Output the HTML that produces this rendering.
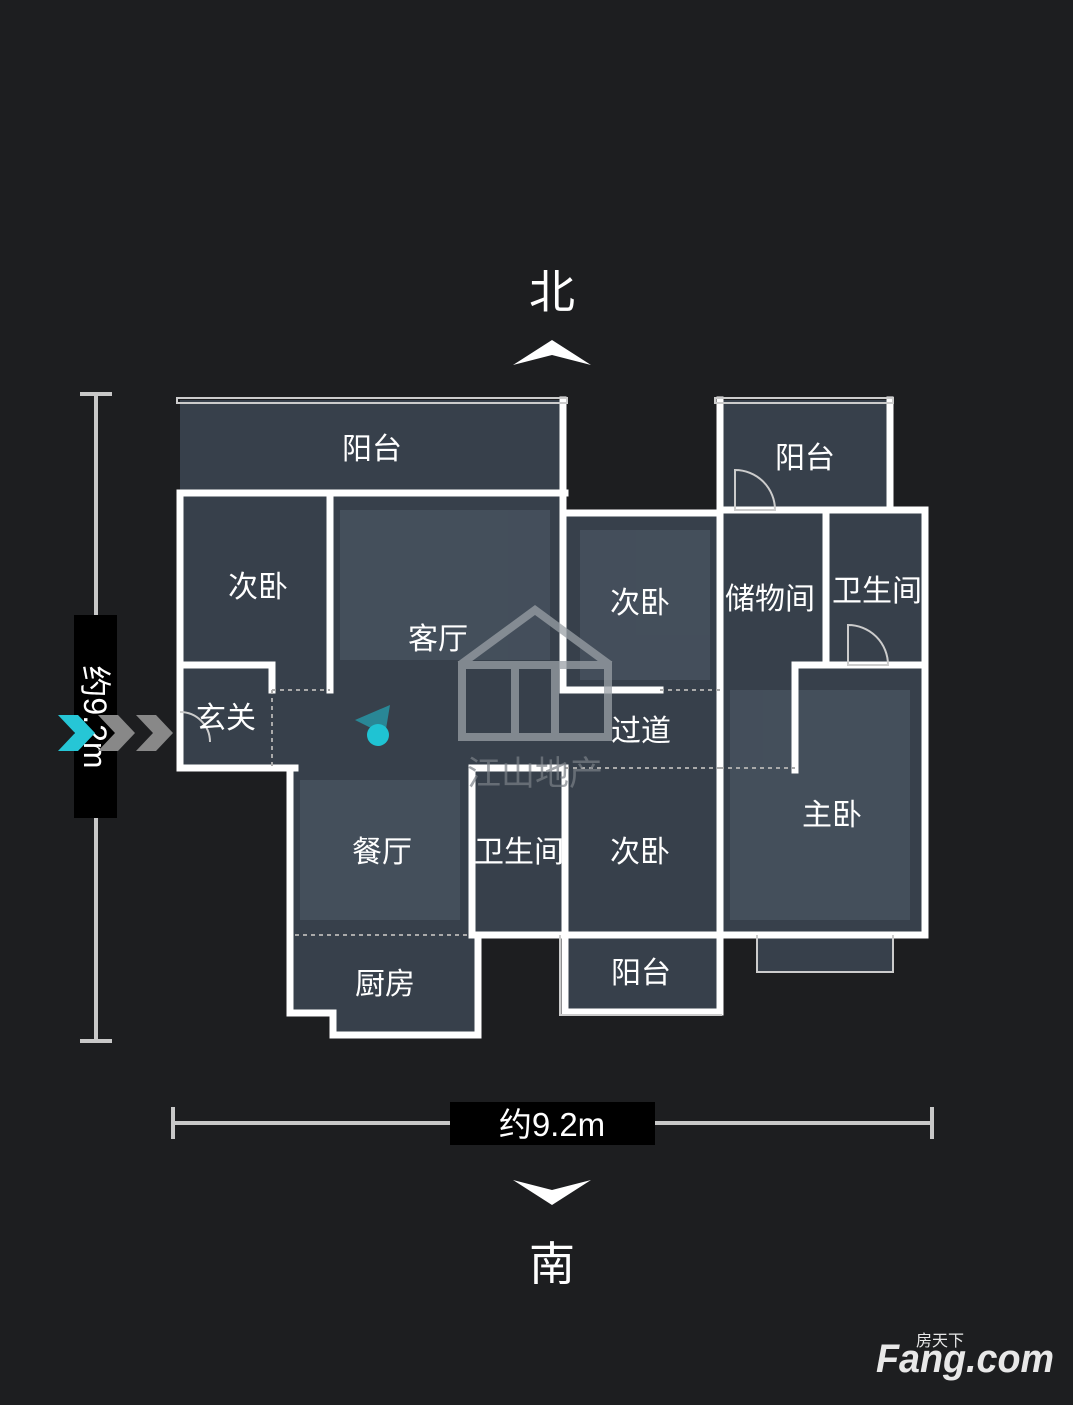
<!DOCTYPE html>
<html><head><meta charset="utf-8"><style>
html,body{margin:0;padding:0;background:#1d1e20;}
body{width:1073px;height:1400px;overflow:hidden;position:relative;font-family:"Liberation Sans","Noto Sans CJK SC",sans-serif;}
svg text{font-family:"Liberation Sans","Noto Sans CJK SC",sans-serif;}
</style></head><body>
<svg width="1073" height="1400" viewBox="0 0 1073 1400" xmlns="http://www.w3.org/2000/svg">
<rect width="1073" height="1400" fill="#1d1e20"/>
<text x="552" y="308" font-size="46" fill="#fff" text-anchor="middle">北</text>
<polygon points="513,365 552,340 591,365 552,355" fill="#fff"/>
<polygon points="513,1180 552,1205 591,1180 552,1190" fill="#fff"/>
<text x="552" y="1280" font-size="46" fill="#fff" text-anchor="middle">南</text>
<g stroke="#c8c8c8" stroke-width="4">
<line x1="96" y1="394" x2="96" y2="1041"/>
<line x1="80" y1="394" x2="112" y2="394"/>
<line x1="80" y1="1041" x2="112" y2="1041"/>
<line x1="173" y1="1123" x2="932" y2="1123"/>
<line x1="173" y1="1107" x2="173" y2="1139"/>
<line x1="932" y1="1107" x2="932" y2="1139"/>
</g>
<rect x="74" y="615" width="43" height="203" fill="#000"/>
<text transform="translate(84,717) rotate(90)" font-size="32" fill="#fff" text-anchor="middle">约9.2m</text>
<rect x="450" y="1102" width="205" height="43" fill="#000"/>
<text x="552" y="1136" font-size="33" fill="#fff" text-anchor="middle">约9.2m</text>
<g fill="#37404b">
<rect x="180" y="400" width="385" height="93"/>
<rect x="180" y="493" width="150" height="172"/>
<rect x="330" y="493" width="235" height="275"/>
<rect x="180" y="665" width="150" height="103"/>
<rect x="290" y="768" width="182" height="167"/>
<rect x="290" y="935" width="188" height="78"/>
<rect x="333" y="1013" width="145" height="22"/>
<rect x="472" y="768" width="93" height="167"/>
<rect x="565" y="513" width="155" height="422"/>
<rect x="565" y="935" width="155" height="78"/>
<rect x="720" y="400" width="170" height="110"/>
<rect x="720" y="510" width="205" height="425"/>
<rect x="757" y="935" width="136" height="37"/>
</g>
<g fill="#4a5562" opacity="0.7">
<rect x="340" y="510" width="210" height="150"/>
<rect x="580" y="530" width="130" height="150"/>
<rect x="730" y="690" width="180" height="230"/>
<rect x="300" y="780" width="160" height="140"/>
</g>
<g stroke="#fff" stroke-width="7" fill="none" stroke-linecap="square">
<polyline points="180,493 180,768 295,768"/>
<line x1="180" y1="493" x2="565" y2="493"/>
<line x1="330" y1="493" x2="330" y2="690"/>
<polyline points="180,665 272,665 272,690"/>
<polyline points="290,768 290,1013 333,1013 333,1035 478,1035 478,935"/>
<line x1="472" y1="768" x2="472" y2="935"/>
<line x1="472" y1="768" x2="565" y2="768"/>
<line x1="563" y1="400" x2="563" y2="690"/>
<line x1="565" y1="768" x2="565" y2="1012"/>
<line x1="565" y1="513" x2="720" y2="513"/>
<line x1="565" y1="690" x2="660" y2="690"/>
<line x1="720" y1="400" x2="720" y2="1012"/>
<polyline points="890,400 890,505"/>
<polyline points="720,510 925,510 925,935 720,935"/>
<line x1="826" y1="513" x2="826" y2="665"/>
<polyline points="795,770 795,665 925,665"/>
<line x1="478" y1="935" x2="565" y2="935"/>
<line x1="565" y1="935" x2="720" y2="935"/>
<polyline points="565,1012 720,1012"/>
</g>
<g stroke="#ccc" stroke-width="2" fill="none">
<rect x="177" y="398" width="390" height="5"/>
<rect x="715" y="398" width="178" height="5"/>
<polyline points="757,935 757,972 893,972 893,935"/>
<polyline points="560,935 560,1015 722,1015"/>
<path d="M735,470 A40,40 0 0 1 775,510 L735,510 Z"/>
<path d="M848,625 A40,40 0 0 1 888,665 L848,665 Z"/>
<path d="M180,712 A30,30 0 0 1 210,742"/>
</g>
<g stroke="#aaa" stroke-width="2" stroke-dasharray="4,4">
<line x1="272" y1="690" x2="330" y2="690"/>
<line x1="272" y1="690" x2="272" y2="768"/>
<line x1="295" y1="935" x2="470" y2="935"/>
<line x1="565" y1="768" x2="720" y2="768"/>
<line x1="720" y1="768" x2="795" y2="768"/>
<line x1="660" y1="690" x2="720" y2="690"/>
</g>
<g fill="none" stroke="#9aa0a6" stroke-width="8" opacity="0.75">
<polyline points="460,665 535,610 610,665"/>
<rect x="462" y="665" width="146" height="72"/>
<rect x="515" y="665" width="40" height="72"/>
</g>
<text x="535" y="785" font-size="34" fill="#7a8087" text-anchor="middle" opacity="0.7">江山地产</text>
<polygon points="355,720 390,705 385,735" fill="#1fb8c8" opacity="0.6"/>
<circle cx="378" cy="735" r="11" fill="#1fc3d3"/>
<polygon points="58,715 78,715 95,733 78,751 58,751 75,733" fill="#26c6d6"/>
<polygon points="98,715 118,715 135,733 118,751 98,751 115,733" fill="#888"/>
<polygon points="136,715 156,715 173,733 156,751 136,751 153,733" fill="#888"/>
<g font-size="30" fill="#fff" text-anchor="middle">
<text x="372" y="459">阳台</text>
<text x="805" y="468">阳台</text>
<text x="258" y="597">次卧</text>
<text x="438" y="649">客厅</text>
<text x="640" y="613">次卧</text>
<text x="770" y="609">储物间</text>
<text x="877" y="601">卫生间</text>
<text x="226" y="728">玄关</text>
<text x="641" y="741">过道</text>
<text x="832" y="825">主卧</text>
<text x="382" y="862">餐厅</text>
<text x="519" y="862">卫生间</text>
<text x="640" y="862">次卧</text>
<text x="385" y="994">厨房</text>
<text x="641" y="983">阳台</text>
</g>
<text x="965" y="1372" font-size="40" font-weight="bold" fill="#e8e8e8" text-anchor="middle" font-style="italic" textLength="178" lengthAdjust="spacingAndGlyphs">Fang.com</text>
<text x="940" y="1346" font-size="16" fill="#e8e8e8" text-anchor="middle">房天下</text>
</svg>
</body></html>
